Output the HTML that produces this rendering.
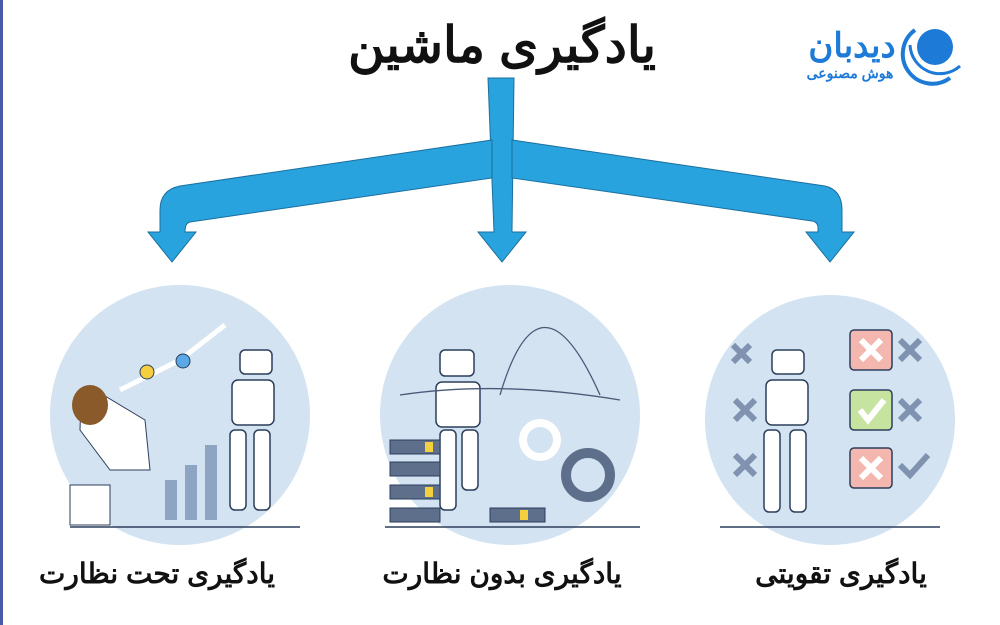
<!DOCTYPE html>
<html><head><meta charset="utf-8"><style>
body{margin:0;background:#fff;width:1000px;height:625px;overflow:hidden}
svg{display:block}
text{font-family:"Liberation Sans","Noto Sans CJK SC",sans-serif}
</style></head><body>
<svg width="1000" height="625" viewBox="0 0 1000 625">
<rect x="0" y="0" width="3" height="625" fill="#4a5aa8"/>
<text x="502" y="62" text-anchor="middle" font-size="50" font-weight="bold" fill="#111" direction="rtl">یادگیری ماشین</text>
<!-- logo -->
<text x="852" y="57" text-anchor="middle" font-size="34" font-weight="bold" fill="#1d7ad6" direction="rtl">دیدبان</text>
<text x="850" y="78" text-anchor="middle" font-size="14" font-weight="bold" fill="#1d7ad6" direction="rtl">هوش مصنوعی</text>
<circle cx="935" cy="47" r="18" fill="#1d7ad6"/>
<path d="M915 30 A28 28 0 0 0 950 78" fill="none" stroke="#1d7ad6" stroke-width="4"/>
<path d="M910 45 A30 30 0 0 0 960 66" fill="none" stroke="#1d7ad6" stroke-width="3"/>
<!-- arrows -->
<g fill="#29a3dd" stroke="#1b6fa0" stroke-width="1">
<path d="M488 78 L514 78 L512 232 L526 232 L502 262 L478 232 L494 232 Z"/>
<path d="M492 140 L492 178 L190 222 Q185 223 185 232 L196 232 L172 262 L148 232 L160 232 L160 210 Q160 190 180 186 Z"/>
<path d="M512 140 L825 186 Q842 190 842 210 L842 232 L854 232 L830 262 L806 232 L818 232 L818 228 Q818 222 812 221 L512 178 Z"/>
</g>
<!-- circles -->
<circle cx="180" cy="415" r="130" fill="#d3e3f1"/>
<circle cx="510" cy="415" r="130" fill="#d3e3f1"/>
<circle cx="830" cy="420" r="125" fill="#d3e3f1"/>
<g stroke="#2c3e5c" stroke-width="1.5">
<line x1="70" y1="527" x2="300" y2="527"/><line x1="385" y1="527" x2="640" y2="527"/><line x1="720" y1="527" x2="940" y2="527"/>
</g>
<!-- left illustration -->
<g fill="#8da5c2"><rect x="165" y="480" width="12" height="40"/><rect x="185" y="465" width="12" height="55"/><rect x="205" y="445" width="12" height="75"/></g>
<path d="M120 390 L180 360 L225 325" fill="none" stroke="#fff" stroke-width="5"/>
<circle cx="147" cy="372" r="7" fill="#f4d03f" stroke="#2c3e5c"/><circle cx="183" cy="361" r="7" fill="#5aa9e6" stroke="#2c3e5c"/>
<path d="M95 390 Q80 400 80 430 L110 470 L150 470 L145 420 Z" fill="#fff" stroke="#2c3e5c"/>
<ellipse cx="90" cy="405" rx="18" ry="20" fill="#8a5a2b"/>
<rect x="70" y="485" width="40" height="40" fill="#fff" stroke="#2c3e5c"/>
<!-- robots -->
<g fill="#fff" stroke="#2c3e5c" stroke-width="1.5">
<rect x="240" y="350" width="32" height="24" rx="5"/><rect x="232" y="380" width="42" height="45" rx="6"/><rect x="230" y="430" width="16" height="80" rx="5"/><rect x="254" y="430" width="16" height="80" rx="5"/>
<rect x="440" y="350" width="34" height="26" rx="5"/><rect x="436" y="382" width="44" height="45" rx="6"/><rect x="440" y="430" width="16" height="80" rx="5"/><rect x="462" y="430" width="16" height="60" rx="5"/>
<rect x="772" y="350" width="32" height="24" rx="5"/><rect x="766" y="380" width="42" height="45" rx="6"/><rect x="764" y="430" width="16" height="82" rx="5"/><rect x="790" y="430" width="16" height="82" rx="5"/>
</g>
<!-- middle stacks & gears -->
<g fill="#5d6f8a" stroke="#2c3e5c"><rect x="390" y="440" width="50" height="14"/><rect x="390" y="462" width="50" height="14"/><rect x="390" y="485" width="50" height="14"/><rect x="390" y="508" width="50" height="14"/><rect x="490" y="508" width="55" height="14"/></g>
<g fill="#f4d03f"><rect x="425" y="442" width="8" height="10"/><rect x="425" y="487" width="8" height="10"/><rect x="520" y="510" width="8" height="10"/></g>
<circle cx="540" cy="440" r="17" fill="none" stroke="#fff" stroke-width="8"/>
<circle cx="588" cy="475" r="22" fill="none" stroke="#5d6f8a" stroke-width="10"/>
<path d="M400 395 Q500 380 620 400 M500 395 Q540 260 600 395" fill="none" stroke="#4a5a78" stroke-width="1.3"/>
<!-- right boxes -->
<g stroke="#2c3e5c" stroke-width="1.5">
<rect x="850" y="330" width="42" height="40" rx="4" fill="#f3b7b0"/><rect x="850" y="390" width="42" height="40" rx="4" fill="#c7e3a0"/><rect x="850" y="448" width="42" height="40" rx="4" fill="#f3b7b0"/>
</g>
<g stroke="#fff" stroke-width="6"><path d="M861 340 L881 360 M881 340 L861 360 M861 458 L881 478 M881 458 L861 478"/><path d="M860 410 L868 420 L884 400" fill="none"/></g>
<g stroke="#7f93b0" stroke-width="6"><path d="M900 340 L920 360 M920 340 L900 360 M900 400 L920 420 M920 400 L900 420 M735 400 L755 420 M755 400 L735 420 M735 455 L755 475 M755 455 L735 475 M733 345 L750 362 M750 345 L733 362"/><path d="M900 465 L910 475 L928 455" fill="none"/></g>
<!-- labels -->
<text x="157" y="583" text-anchor="middle" font-size="28" font-weight="bold" fill="#111" direction="rtl">یادگیری تحت نظارت</text>
<text x="502" y="583" text-anchor="middle" font-size="28" font-weight="bold" fill="#111" direction="rtl">یادگیری بدون نظارت</text>
<text x="841" y="583" text-anchor="middle" font-size="28" font-weight="bold" fill="#111" direction="rtl">یادگیری تقویتی</text>
</svg>
</body></html>
